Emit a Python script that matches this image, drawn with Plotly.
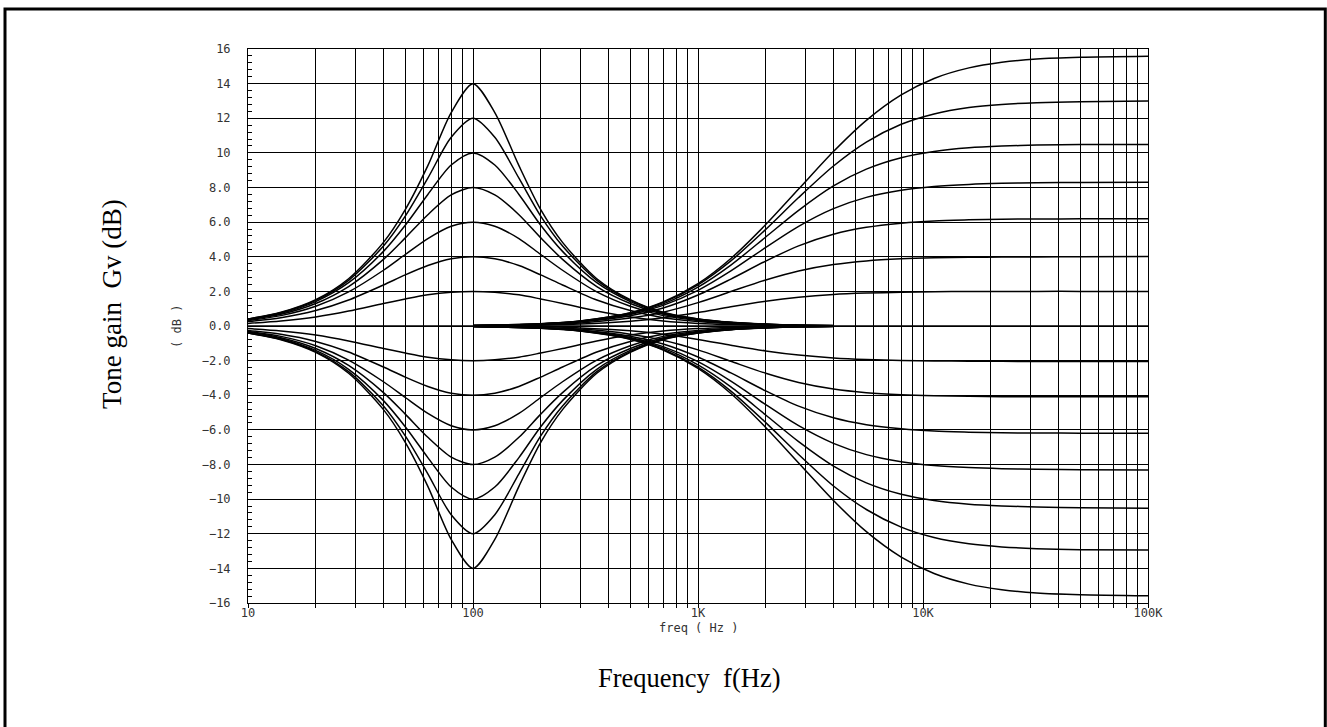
import plotly.graph_objects as go

# bass (peaking, 100 Hz) sweep, treble flat
freq_bass = [10, 14, 20, 28, 40, 50, 63, 80, 100, 125, 160, 200, 250, 355, 500, 700, 1000, 1400, 2000, 2800, 4000]
bass_p14 = [0.41, 0.79, 1.52, 2.73, 4.83, 6.72, 9.26, 12.33, 14.0, 12.33, 9.26, 6.72, 4.83, 2.73, 1.52, 0.79, 0.41, 0.21, 0.11, 0.05, 0.03]
bass_p12 = [0.40, 0.77, 1.48, 2.64, 4.62, 6.35, 8.54, 10.90, 12.0, 10.90, 8.54, 6.35, 4.62, 2.64, 1.48, 0.77, 0.40, 0.21, 0.10, 0.05, 0.03]
bass_p10 = [0.39, 0.73, 1.41, 2.50, 4.31, 5.82, 7.60, 9.30, 10.0, 9.30, 7.60, 5.82, 4.31, 2.50, 1.41, 0.73, 0.39, 0.20, 0.10, 0.05, 0.02]
bass_p8 = [0.36, 0.68, 1.30, 2.28, 3.85, 5.09, 6.43, 7.57, 8.0, 7.57, 6.43, 5.09, 3.85, 2.28, 1.30, 0.68, 0.36, 0.19, 0.09, 0.05, 0.02]
bass_p6 = [0.32, 0.60, 1.14, 1.97, 3.22, 4.13, 5.05, 5.76, 6.0, 5.76, 5.05, 4.13, 3.22, 1.97, 1.14, 0.60, 0.32, 0.17, 0.08, 0.04, 0.02]
bass_p4 = [0.26, 0.48, 0.89, 1.50, 2.37, 2.95, 3.49, 3.88, 4.0, 3.88, 3.49, 2.95, 2.37, 1.50, 0.89, 0.48, 0.26, 0.13, 0.07, 0.03, 0.02]
bass_p2 = [0.15, 0.29, 0.52, 0.86, 1.30, 1.56, 1.80, 1.95, 2.0, 1.95, 1.80, 1.56, 1.30, 0.86, 0.52, 0.29, 0.15, 0.08, 0.04, 0.02, 0.01]
bass_m2 = [-0.15, -0.29, -0.52, -0.86, -1.30, -1.56, -1.80, -1.95, -2.0, -1.95, -1.80, -1.56, -1.30, -0.86, -0.52, -0.29, -0.15, -0.08, -0.04, -0.02, -0.01]
bass_m4 = [-0.26, -0.48, -0.89, -1.50, -2.37, -2.95, -3.49, -3.88, -4.0, -3.88, -3.49, -2.95, -2.37, -1.50, -0.89, -0.48, -0.26, -0.13, -0.07, -0.03, -0.02]
bass_m6 = [-0.32, -0.60, -1.14, -1.97, -3.22, -4.13, -5.05, -5.76, -6.0, -5.76, -5.05, -4.13, -3.22, -1.97, -1.14, -0.60, -0.32, -0.17, -0.08, -0.04, -0.02]
bass_m8 = [-0.36, -0.68, -1.30, -2.28, -3.85, -5.09, -6.43, -7.57, -8.0, -7.57, -6.43, -5.09, -3.85, -2.28, -1.30, -0.68, -0.36, -0.19, -0.09, -0.05, -0.02]
bass_m10 = [-0.39, -0.73, -1.41, -2.50, -4.31, -5.82, -7.60, -9.30, -10.0, -9.30, -7.60, -5.82, -4.31, -2.50, -1.41, -0.73, -0.39, -0.20, -0.10, -0.05, -0.02]
bass_m12 = [-0.40, -0.77, -1.48, -2.64, -4.62, -6.35, -8.54, -10.90, -12.0, -10.90, -8.54, -6.35, -4.62, -2.64, -1.48, -0.77, -0.40, -0.21, -0.10, -0.05, -0.03]
bass_m14 = [-0.41, -0.79, -1.52, -2.73, -4.83, -6.72, -9.26, -12.33, -14.0, -12.33, -9.26, -6.72, -4.83, -2.73, -1.52, -0.79, -0.41, -0.21, -0.11, -0.05, -0.03]

# treble (shelf) sweep, bass flat
freq_treble = [100, 200, 300, 500, 700, 1000, 1400, 2000, 2800, 4000, 5600, 8000, 11200, 16000, 22400, 32000, 50000, 100000]
treble_p156 = [0.03, 0.13, 0.29, 0.77, 1.39, 2.45, 3.90, 5.86, 7.91, 10.08, 11.88, 13.35, 14.30, 14.91, 15.23, 15.42, 15.52, 15.58]
treble_p13 = [0.03, 0.13, 0.29, 0.75, 1.35, 2.38, 3.76, 5.58, 7.42, 9.24, 10.62, 11.65, 12.25, 12.62, 12.80, 12.90, 12.96, 12.99]
treble_p105 = [0.03, 0.12, 0.27, 0.71, 1.28, 2.25, 3.52, 5.14, 6.68, 8.09, 9.06, 9.72, 10.08, 10.29, 10.39, 10.45, 10.48, 10.49]
treble_p83 = [0.03, 0.12, 0.26, 0.66, 1.19, 2.06, 3.18, 4.54, 5.76, 6.78, 7.43, 7.84, 8.06, 8.18, 8.24, 8.27, 8.29, 8.30]
treble_p62 = [0.03, 0.10, 0.23, 0.59, 1.04, 1.79, 2.71, 3.75, 4.63, 5.30, 5.70, 5.94, 6.07, 6.13, 6.17, 6.18, 6.19, 6.20]
treble_p4 = [0.02, 0.08, 0.18, 0.46, 0.80, 1.35, 1.99, 2.66, 3.18, 3.55, 3.76, 3.88, 3.94, 3.97, 3.98, 3.99, 4.00, 4.02]
treble_p2 = [0.01, 0.05, 0.11, 0.28, 0.48, 0.78, 1.11, 1.43, 1.66, 1.82, 1.90, 1.95, 1.98, 1.99, 1.99, 2.00, 2.00, 2.00]
treble_m2 = [-0.01, -0.05, -0.11, -0.28, -0.48, -0.78, -1.11, -1.44, -1.68, -1.85, -1.94, -1.99, -2.02, -2.03, -2.04, -2.05, -2.05, -2.05]
treble_m4 = [-0.02, -0.08, -0.18, -0.47, -0.82, -1.38, -2.04, -2.73, -3.26, -3.64, -3.85, -3.97, -4.03, -4.06, -4.08, -4.09, -4.09, -4.09]
treble_m62 = [-0.03, -0.10, -0.23, -0.59, -1.04, -1.79, -2.71, -3.75, -4.63, -5.30, -5.70, -5.94, -6.07, -6.13, -6.17, -6.18, -6.19, -6.20]
treble_m83 = [-0.03, -0.12, -0.26, -0.66, -1.19, -2.06, -3.18, -4.54, -5.76, -6.78, -7.43, -7.84, -8.06, -8.18, -8.24, -8.27, -8.30, -8.32]
treble_m105 = [-0.03, -0.12, -0.27, -0.71, -1.28, -2.25, -3.52, -5.14, -6.68, -8.09, -9.06, -9.72, -10.08, -10.29, -10.39, -10.45, -10.50, -10.53]
treble_m13 = [-0.03, -0.13, -0.29, -0.75, -1.35, -2.38, -3.76, -5.58, -7.42, -9.24, -10.60, -11.62, -12.22, -12.58, -12.76, -12.86, -12.92, -12.94]
treble_m156 = [-0.03, -0.13, -0.29, -0.77, -1.39, -2.45, -3.90, -5.86, -7.91, -10.08, -11.88, -13.35, -14.30, -14.91, -15.23, -15.42, -15.52, -15.58]

freq_flat = [10, 100000]
flat = [0.0, 0.0]

x_tickvals = [10, 100, 1000, 10000, 100000]
x_ticktext = ["10", "100", "1K", "10K", "100K"]
x_minor = [m * d for d in (10, 100, 1000, 10000) for m in range(2, 10)]
y_tickvals = list(range(-16, 17, 2))
y_ticktext = ["−16", "−14", "−12", "−10", "−8.0", "−6.0", "−4.0", "−2.0", "0.0",
              "2.0", "4.0", "6.0", "8.0", "10", "12", "14", "16"]

bass_curves = [bass_p14, bass_p12, bass_p10, bass_p8, bass_p6, bass_p4, bass_p2,
               bass_m2, bass_m4, bass_m6, bass_m8, bass_m10, bass_m12, bass_m14]
treble_curves = [treble_p156, treble_p13, treble_p105, treble_p83, treble_p62, treble_p4, treble_p2,
                 treble_m2, treble_m4, treble_m62, treble_m83, treble_m105, treble_m13, treble_m156]

fig = go.Figure()
line = dict(color="black", width=1.5, shape="spline", smoothing=0.8)
for ys in bass_curves:
    fig.add_trace(go.Scatter(x=freq_bass, y=ys, mode="lines", line=line, hoverinfo="skip"))
for ys in treble_curves:
    fig.add_trace(go.Scatter(x=freq_treble, y=ys, mode="lines", line=line, hoverinfo="skip"))
fig.add_trace(go.Scatter(x=freq_flat, y=flat, mode="lines", line=dict(color="black", width=1.5), hoverinfo="skip"))

tickfont = dict(family="DejaVu Sans Mono", size=12, color="#333")
smallfont = dict(family="DejaVu Sans Mono", size=12, color="#333")

fig.update_xaxes(type="log", range=[1, 5],
                 tickmode="array", tickvals=x_tickvals, ticktext=x_ticktext,
                 ticks="outside", ticklen=4, tickcolor="black",
                 showgrid=True, gridcolor="black", gridwidth=1,
                 minor=dict(tickmode="array", tickvals=x_minor, ticks="outside", ticklen=4,
                            tickcolor="black", showgrid=True, gridcolor="black", gridwidth=1),
                 showline=True, linecolor="black", linewidth=1, mirror=True,
                 tickfont=tickfont, ticklabelstandoff=-5, zeroline=False)
fig.update_yaxes(range=[-16, 16],
                 tickmode="array", tickvals=y_tickvals, ticktext=y_ticktext,
                 ticks="inside", ticklen=4, tickcolor="black",
                 showgrid=True, gridcolor="black", gridwidth=1,
                 minor=dict(dtick=0.4, ticks="inside", ticklen=4, tickcolor="black", showgrid=False),
                 showline=True, linecolor="black", linewidth=1, mirror=True,
                 tickfont=tickfont, ticklabelstandoff=14, zeroline=False)

fig.update_layout(
    width=1327, height=727,
    margin=dict(l=248, r=179, t=49, b=124),
    paper_bgcolor="white", plot_bgcolor="white",
    showlegend=False,
    annotations=[
        dict(text="freq ( Hz )", x=0.5, y=-0.045, xref="paper", yref="paper", showarrow=False,
             xanchor="center", yanchor="middle", font=smallfont),
        dict(text="( dB )", x=-0.079, y=0.5, xref="paper", yref="paper", showarrow=False, textangle=-90,
             xanchor="center", yanchor="middle", font=smallfont),
        dict(text="Frequency  f(Hz)", x=0.49, y=-0.135, xref="paper", yref="paper", showarrow=False,
             xanchor="center", yanchor="middle",
             font=dict(family="Liberation Serif", size=26.5, color="black")),
        dict(text="Tone gain  Gv (dB)", x=-0.151, y=0.54, xref="paper", yref="paper", showarrow=False,
             textangle=-90, xanchor="center", yanchor="middle",
             font=dict(family="Liberation Serif", size=27, color="black")),
    ],
    shapes=[dict(type="rect", xref="paper", yref="paper", x0=-0.27, x1=1.197, y0=-0.235, y1=1.072,
                 line=dict(color="black", width=3))],
)

# drop the default page margin so the figure sits at the window's top-left corner
fig.write_html("out.html", config={"displayModeBar": False},
               post_script="document.body.style.margin='0';")
